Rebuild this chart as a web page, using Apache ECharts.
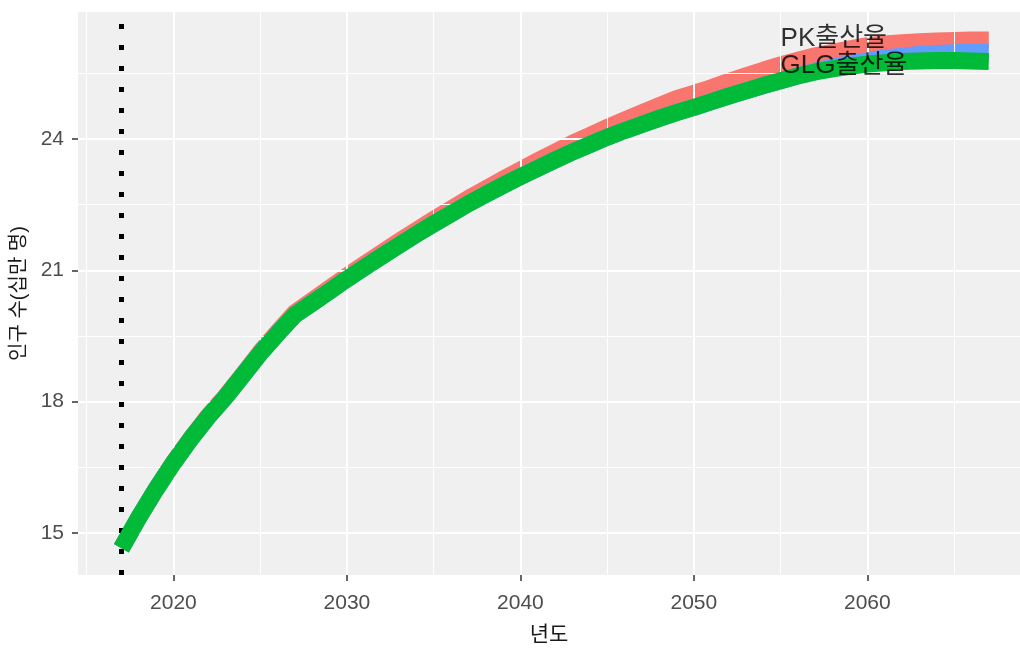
<!DOCTYPE html>
<html>
<head>
<meta charset="utf-8">
<script src="https://cdn.jsdelivr.net/npm/echarts@6/dist/echarts.min.js"></script>
<style>
  html, body { margin: 0; padding: 0; background: #ffffff; }
  #chart { width: 1020px; height: 648px; }
</style>
</head>
<body>
<div id="chart"></div>
<script>
// Population projection (hundred-thousands) by year for three fertility models
const years = [
  2017, 2018, 2019, 2020, 2021, 2022, 2023, 2024, 2025, 2026,
  2027, 2028, 2029, 2030, 2031, 2032, 2033, 2034, 2035, 2036,
  2037, 2038, 2039, 2040, 2041, 2042, 2043, 2044, 2045, 2046,
  2047, 2048, 2049, 2050, 2051, 2052, 2053, 2054, 2055, 2056,
  2057, 2058, 2059, 2060, 2061, 2062, 2063, 2064, 2065, 2066, 2067
];

const pkValues = [
  14.65, 15.35, 16.00, 16.61, 17.16, 17.67, 18.12, 18.62, 19.13, 19.59,
  20.03, 20.31, 20.59, 20.87, 21.14, 21.40, 21.66, 21.91, 22.16, 22.40,
  22.64, 22.86, 23.08, 23.29, 23.50, 23.70, 23.90, 24.08, 24.26, 24.43,
  24.60, 24.76, 24.92, 25.04, 25.17, 25.31, 25.44, 25.57, 25.69, 25.80,
  25.90, 25.98, 26.06, 26.13, 26.17, 26.20, 26.22, 26.24, 26.25, 26.26, 26.26
];

const midValues = [
  14.65, 15.35, 16.00, 16.60, 17.15, 17.65, 18.10, 18.60, 19.10, 19.55,
  19.98, 20.25, 20.52, 20.80, 21.06, 21.32, 21.57, 21.82, 22.06, 22.29,
  22.52, 22.73, 22.94, 23.14, 23.33, 23.52, 23.70, 23.87, 24.04, 24.19,
  24.33, 24.47, 24.60, 24.72, 24.85, 24.98, 25.10, 25.22, 25.33, 25.44,
  25.55, 25.64, 25.72, 25.79, 25.85, 25.89, 25.93, 25.95, 25.97, 25.98, 25.98
];

const glgValues = [
  14.65, 15.35, 16.00, 16.60, 17.15, 17.65, 18.10, 18.60, 19.10, 19.55,
  19.98, 20.25, 20.52, 20.80, 21.06, 21.32, 21.57, 21.82, 22.06, 22.29,
  22.52, 22.73, 22.94, 23.14, 23.33, 23.52, 23.70, 23.87, 24.04, 24.19,
  24.33, 24.47, 24.60, 24.72, 24.85, 24.98, 25.10, 25.22, 25.33, 25.44,
  25.53, 25.60, 25.66, 25.71, 25.74, 25.77, 25.78, 25.79, 25.79, 25.78, 25.77
];

// Text labels placed near the right end of the curves
const labelNames = ['PK출산율', 'GLG출산율'];
const labelYears = [2055, 2055];
const labelLevels = [26.28, 25.67];

// Axis breaks
const xBreaks = [2020, 2030, 2040, 2050, 2060];
const xMinorBreaks = [2015, 2025, 2035, 2045, 2055, 2065];
const yBreaks = [15, 18, 21, 24];
const yMinorBreaks = [16.5, 19.5, 22.5, 25.5];
const baseYear = 2017;

const xMin = 2014.5, xMax = 2068.8;
const yMin = 14.04, yMax = 26.9;

const pairs = vals => years.map((y, i) => [y, vals[i]]);

const latin = "'Liberation Sans', Arial, 'Noto Sans CJK KR', sans-serif";
const hangul = "'Liberation Sans', 'Noto Sans CJK KR', sans-serif";

const lineSeries = (name, vals, color, z) => ({
  name,
  type: 'line',
  data: pairs(vals),
  showSymbol: false,
  symbol: 'none',
  z,
  silent: true,
  animation: false,
  lineStyle: { color, width: 17, cap: 'butt', join: 'round' }
});

const chart = echarts.init(document.getElementById('chart'), null, { renderer: 'canvas' });

chart.setOption({
  animation: false,
  backgroundColor: '#ffffff',
  grid: {
    left: 78, right: 0, top: 12, bottom: 73,
    containLabel: false, outerBoundsMode: 'none',
    show: true, backgroundColor: '#F0F0F0', borderWidth: 0
  },
  xAxis: {
    type: 'value',
    min: xMin, max: xMax,
    name: '년도',
    nameLocation: 'middle',
    nameGap: 50,
    nameTextStyle: { fontSize: 21, color: '#1a1a1a', fontFamily: hangul },
    axisLine: { show: false },
    splitLine: { show: false },
    axisTick: { show: true, customValues: xBreaks, length: 6, lineStyle: { color: '#333333', width: 1.5 } },
    axisLabel: {
      customValues: xBreaks, formatter: v => String(v),
      fontSize: 21, color: '#4D4D4D', fontFamily: latin, margin: 18
    }
  },
  yAxis: {
    type: 'value',
    min: yMin, max: yMax,
    name: '인구 수(십만 명)',
    nameLocation: 'middle',
    nameGap: 45,
    nameRotate: 90,
    nameTextStyle: { fontSize: 20, color: '#1a1a1a', fontFamily: hangul },
    axisLine: { show: false },
    splitLine: { show: false },
    axisTick: { show: true, customValues: yBreaks, length: 6, lineStyle: { color: '#333333', width: 1.5 } },
    axisLabel: {
      customValues: yBreaks, formatter: v => String(v),
      fontSize: 21, color: '#4D4D4D', fontFamily: latin, margin: 14
    }
  },
  series: [
    {
      // panel grid lines
      type: 'line', data: [], z: 1, silent: true,
      markLine: {
        silent: true, symbol: 'none', label: { show: false }, animation: false,
        data: [
          ...xMinorBreaks.map(v => ({ xAxis: v, lineStyle: { color: '#ffffff', width: 1, type: 'solid' } })),
          ...yMinorBreaks.map(v => ({ yAxis: v, lineStyle: { color: '#ffffff', width: 1, type: 'solid' } })),
          ...xBreaks.map(v => ({ xAxis: v, lineStyle: { color: '#ffffff', width: 2, type: 'solid' } })),
          ...yBreaks.map(v => ({ yAxis: v, lineStyle: { color: '#ffffff', width: 2, type: 'solid' } }))
        ]
      }
    },
    lineSeries('PK', pkValues, '#F8766D', 3),
    lineSeries('mid', midValues, '#619CFF', 4),
    lineSeries('GLG', glgValues, '#00BA38', 5),
    {
      // base year marker
      type: 'line', data: [], z: 10, silent: true,
      markLine: {
        silent: true, symbol: 'none', label: { show: false }, animation: false,
        data: [{ xAxis: baseYear }],
        lineStyle: { color: '#000000', width: 5, type: [5, 16], cap: 'butt' }
      }
    },
    {
      type: 'scatter', z: 12, silent: true, symbolSize: 0,
      data: labelNames.map((n, i) => ({ name: n, value: [labelYears[i], labelLevels[i]] })),
      label: {
        show: true, position: 'right', distance: 0,
        formatter: p => p.name,
        fontSize: 26, color: '#000000', fontFamily: hangul
      }
    }
  ]
});
</script>
</body>
</html>
